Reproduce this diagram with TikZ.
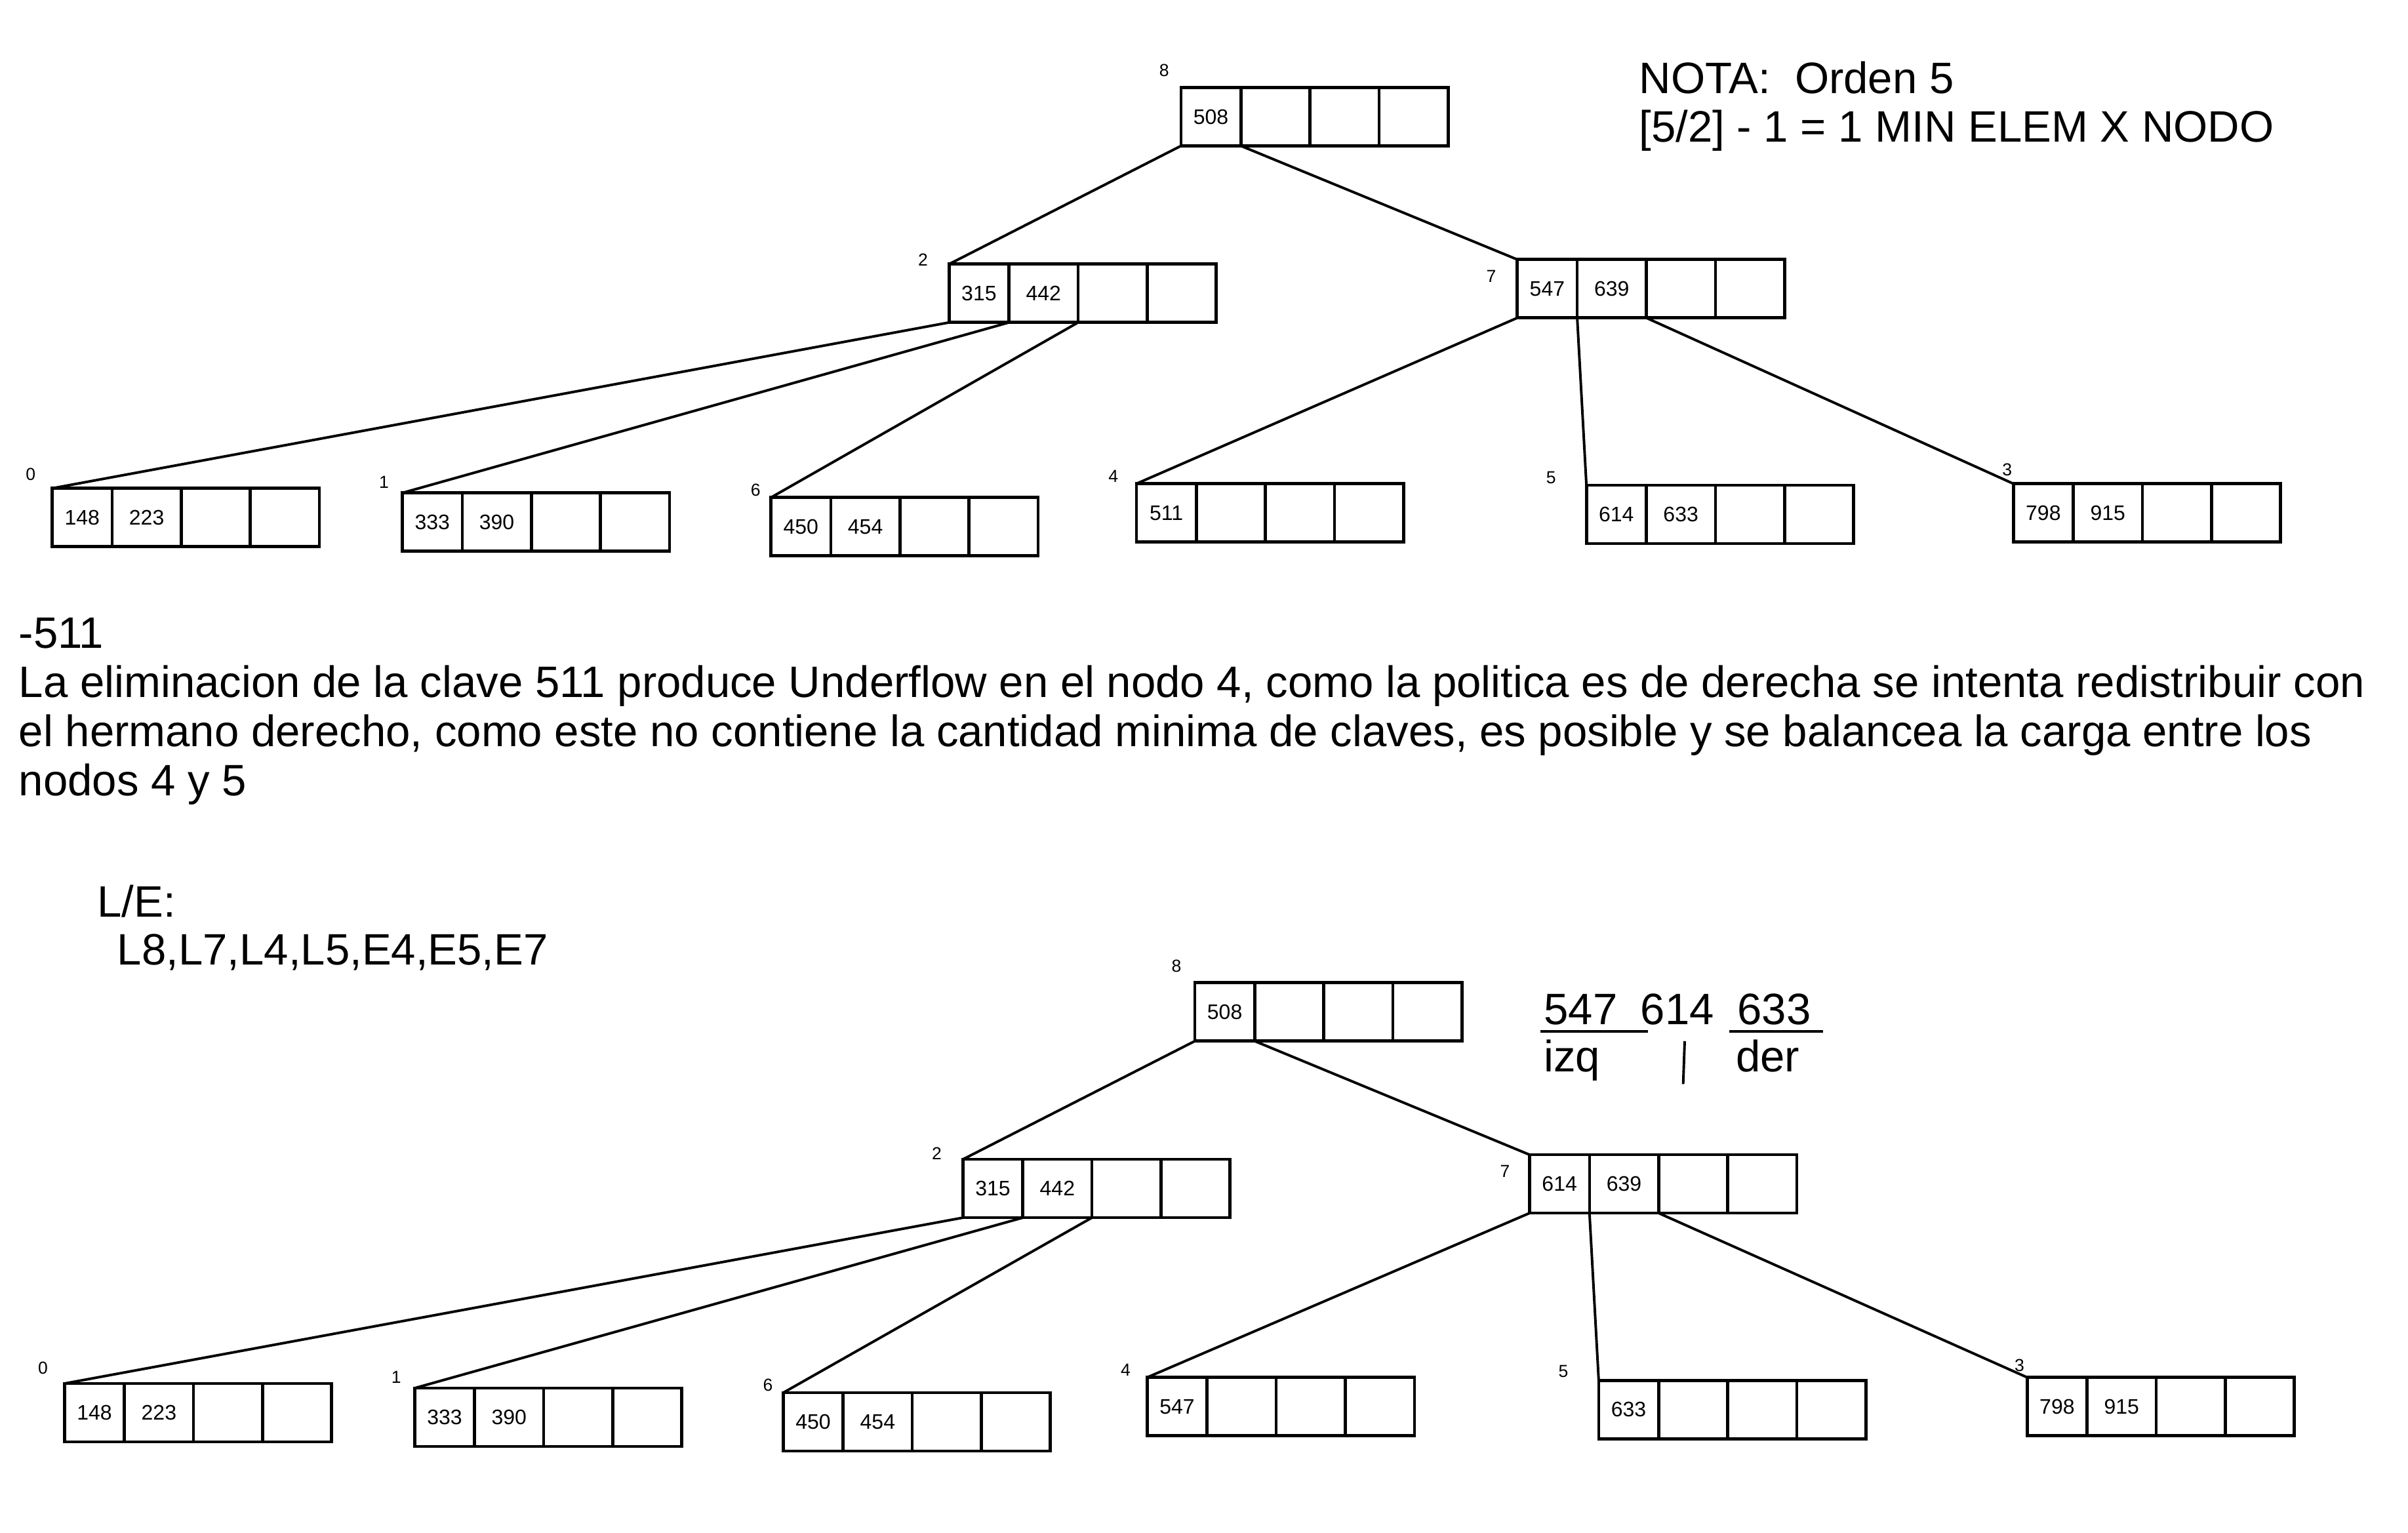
\documentclass[tikz,border=0pt]{standalone}
\usepackage{fontspec}
\setmainfont{Liberation Sans}
\usetikzlibrary{positioning}

\begin{document}
\begin{tikzpicture}[x=0.6pt,y=0.6pt,yscale=-1,
  celda/.style={draw,line width=1.2pt,outer sep=0pt,inner sep=0pt,minimum width=27pt,minimum height=22.8pt,font=\fontsize{8.2}{9.6}\selectfont},
  celdauno/.style={celda,minimum width=23.4pt},
  etiq/.style={inner sep=0pt,font=\fontsize{6.8}{8}\selectfont},
  rama/.style={line width=1pt},
  texto/.style={anchor=base west,inner sep=0pt,font=\fontsize{17.2}{19.2}\selectfont}]
\useasboundingbox (0,0) rectangle (1568,998);
% Nodos del arbol (a = antes, b = despues)
\foreach \id/\num/\x/\y/\lx/\ly/\ka/\kb in {
  a8/8/769/57/758/46/508/{}, a2/2/618/172/601/169/315/442, a7/7/988/169/971/180/547/639,
  a0/0/34/318/20/309/148/223, a1/1/262/321/250/314/333/390, a6/6/502/324/492/319/450/454,
  a4/4/740/315/725/310/511/{}, a5/5/1033/316/1010/311/614/633, a3/3/1311/315/1307/306/798/915,
  b8/8/778/640/766/629/508/{}, b2/2/627/755/610/751/315/442, b7/7/996/752/980/763/614/639,
  b0/0/42/901/28/891/148/223, b1/1/270/904/258/897/333/390, b6/6/510/907/500/902/450/454,
  b4/4/747/897/733/892/547/{}, b5/5/1041/899/1018/893/633/{}, b3/3/1320/897/1315/889/798/915}{
  \node[celdauno,anchor=north west] (\id-1) at (\x,\y) {\ka};
  \node[celda,right=0pt of \id-1] (\id-2) {\kb};
  \node[celda,right=0pt of \id-2] (\id-3) {};
  \node[celda,right=0pt of \id-3] (\id-4) {};
  \node[etiq] (\id-n) at (\lx,\ly) {\num};
}
% Ramas arbol de arriba
\draw[rama] (a8-1.south west) -- (a2-1.north west);
\draw[rama] (a8-1.south east) -- (a7-1.north west);
\draw[rama] (a2-1.south west) -- (a0-1.north west);
\draw[rama] (a2-1.south east) -- (a1-1.north west);
\draw[rama] (a2-2.south east) -- (a6-1.north west);
\draw[rama] (a7-1.south west) -- (a4-1.north west);
\draw[rama] (a7-1.south east) -- (a5-1.north west);
\draw[rama] (a7-2.south east) -- (a3-1.north west);
% Ramas arbol de abajo
\draw[rama] (b8-1.south west) -- (b2-1.north west);
\draw[rama] (b8-1.south east) -- (b7-1.north west);
\draw[rama] (b2-1.south west) -- (b0-1.north west);
\draw[rama] (b2-1.south east) -- (b1-1.north west);
\draw[rama] (b2-2.south east) -- (b6-1.north west);
\draw[rama] (b7-1.south west) -- (b4-1.north west);
\draw[rama] (b7-1.south east) -- (b5-1.north west);
\draw[rama] (b7-2.south east) -- (b3-1.north west);
% Text Node
\node[texto] (nota1) at (1067,61) {NOTA:\ \ Orden 5};
\node[texto] (nota2) at (1067,92.5) {[5/2] - 1 = 1 MIN ELEM X NODO};
% Text Node
\node[texto] (baja) at (12,422) {-511};
\node[texto] (parr1) at (12,454) {La eliminacion de la clave 511 produce Underflow en el nodo 4, como la politica es de derecha se intenta redistribuir con};
\node[texto] (parr2) at (12,486) {el hermano derecho, como este no contiene la cantidad minima de claves, es posible y se balancea la carga entre los};
\node[texto] (parr3) at (12,518) {nodos 4 y 5};
% Text Node
\node[texto] (le) at (63,597) {L/E:};
\node[texto] (lecturas) at (76,628.5) {L8,L7,L4,L5,E4,E5,E7};
% Text Node
\node[texto] (izqv) at (1005,667) {547};
\node[texto] (medv) at (1068,667) {614};
\node[texto] (derv) at (1131,667) {633};
\node[texto] (izq) at (1005,698) {izq};
\node[texto] (der) at (1130,698) {der};
\draw[line width=1pt] (1003,671.5) -- (1073,671.5);
\draw[line width=1pt] (1126,671.5) -- (1187,671.5);
\draw[line width=1pt] (1097,678) -- (1096,706);
\end{tikzpicture}
\end{document}
